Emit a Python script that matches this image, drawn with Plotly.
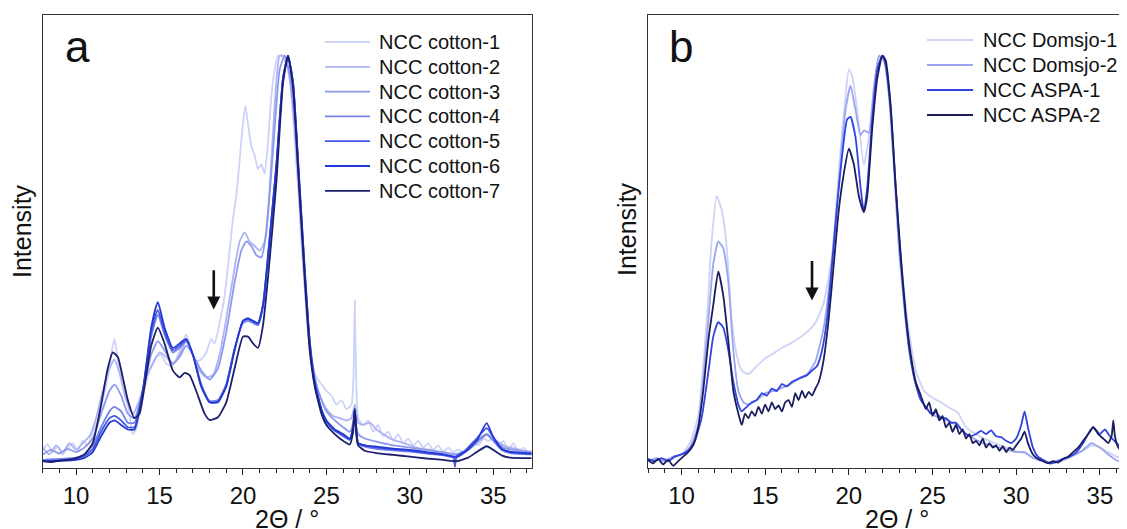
import plotly.graph_objects as go

# ---------------- data (normalized intensity, 2-theta in degrees) ----------------
cotton_names = ["NCC cotton-1", "NCC cotton-2", "NCC cotton-3", "NCC cotton-4",
                "NCC cotton-5", "NCC cotton-6", "NCC cotton-7"]
cotton_colors = ["#cdd2f7", "#abb3f2", "#8e99ee", "#7682ea", "#4457e3", "#2339d6", "#1b1f6e"]

cotton_1 = [[8.0,4.0],[8.3,5.2],[8.6,3.5],[8.9,4.8],[9.2,3.0],[9.5,4.5],[9.8,5.5],[10.1,3.8],[10.4,6.0],
            [10.7,5.0],[11.0,8.0],[11.3,10.5],[11.6,15],[11.9,20],[12.1,25],[12.3,28.5],[12.5,24],[12.8,19],
            [13.1,14],[13.4,7.5],[13.6,8.5],[13.9,14],[14.2,19],[14.5,22.5],[14.8,24.5],[15.1,25],[15.4,23],
            [15.7,22.5],[16.0,24],[16.3,27],[16.6,29.5],[16.9,26],[17.2,23.5],[17.5,24],[17.8,25.5],[18.1,28.5],
            [18.3,27.5],[18.6,32],[18.9,38],[19.2,48],[19.4,55],[19.6,60],[19.8,68],[20.0,76],[20.15,80],
            [20.3,76],[20.5,71],[20.7,69],[20.9,66],[21.1,67],[21.3,65],[21.5,72],[21.7,82],[21.9,88],
            [22.1,91],[22.3,91],[22.5,90],[22.7,88],[22.9,82],[23.1,72],[23.3,62],[23.5,50],[23.7,40],
            [23.9,30],[24.1,24],[24.4,20],[24.7,18.5],[25.0,17],[25.3,16],[25.6,14],[25.9,15],[26.2,13],
            [26.5,14],[26.62,20],[26.7,37],[26.78,20],[26.9,11],[27.2,9.5],[27.5,10.5],[27.8,8],[28.1,9.5],
            [28.4,7],[28.7,8],[29.0,6],[29.3,7.5],[29.6,5.5],[29.9,6.5],[30.2,5],[30.5,6],[30.8,4.5],
            [31.1,5.5],[31.4,4],[31.7,5],[32.0,3.5],[32.3,4.5],[32.6,3.5],[32.9,4.0],[33.2,3.5],[33.5,4.5],
            [33.8,5.5],[34.1,5],[34.4,6.5],[34.7,6],[35.0,6.5],[35.3,5],[35.6,6],[35.9,4],[36.2,5.5],
            [36.5,3.5],[36.8,4.5],[37.1,3.5],[37.3,4]]

cotton_2 = [[8.0,4.5],[8.4,3.0],[8.8,5.0],[9.2,3.5],[9.6,5.5],[10.0,4.0],[10.4,5.5],[10.8,7.0],[11.2,11],
            [11.6,17],[12.0,22],[12.3,24],[12.6,21],[13.0,15],[13.4,12],[13.8,15],[14.2,20],[14.6,23],
            [15.0,25.5],[15.4,24.5],[15.8,23],[16.2,25],[16.6,28],[17.0,25],[17.4,21.5],[17.8,20],[18.2,20.5],
            [18.6,25],[19.0,33],[19.4,42],[19.8,50],[20.1,52],[20.4,50],[20.7,49],[21.0,48],[21.3,50],
            [21.6,62],[21.9,80],[22.2,91],[22.5,91],[22.8,86],[23.1,76],[23.4,58],[23.7,40],[24.0,26],
            [24.3,19],[24.6,16],[25.0,13],[25.4,11.5],[25.8,11],[26.2,10.5],[26.5,11],[26.7,14],[26.9,10],
            [27.2,9.5],[27.6,10],[28.0,8.5],[28.4,7.5],[28.8,6.5],[29.2,6],[29.6,5.5],[30.0,5],[30.4,4.5],
            [30.8,4.2],[31.2,4],[31.6,3.6],[32.0,3.3],[32.4,3.2],[32.8,3],[33.2,3.5],[33.6,4.5],[34.0,5.5],
            [34.3,6.5],[34.6,7.3],[34.9,6.5],[35.2,6],[35.6,5],[36.0,4.5],[36.4,4.2],[36.8,3.8],[37.3,3.5]]

cotton_3 = [[8.0,3.0],[8.5,4.0],[9.0,3.2],[9.5,4.2],[10.0,3.5],[10.5,4.5],[11.0,6.5],[11.5,12],[12.0,17],
            [12.3,18.4],[12.7,16],[13.1,12],[13.5,11],[14.0,17],[14.5,25],[14.9,28],[15.3,26],[15.8,23],
            [16.2,24.5],[16.6,27],[17.0,25],[17.5,21.5],[18.0,19.5],[18.5,22],[19.0,30],[19.5,41],[19.9,48],
            [20.2,50],[20.5,49],[20.8,47],[21.1,46.5],[21.4,52],[21.8,70],[22.2,88],[22.5,91],[22.8,87],
            [23.1,76],[23.4,60],[23.7,42],[24.0,28],[24.3,20],[24.7,15],[25.0,12.5],[25.5,10.5],[26.0,9],
            [26.4,8],[26.6,10],[26.7,13],[26.8,9],[26.9,7.5],[27.3,6.5],[28.0,5.8],[29.0,5],[30.0,4.5],
            [31.0,4],[32.0,3.5],[32.8,3],[33.5,4],[34.0,5.5],[34.6,7.5],[35.1,6],[35.6,4.5],[36.2,4],[37.3,3.5]]

cotton_4 = [[8.0,1.8],[9.0,2.0],[10.0,2.3],[10.5,3],[11.0,5],[11.5,9],[12.0,12.5],[12.3,13.5],[12.7,12.5],
            [13.1,10],[13.5,10],[14.0,17],[14.5,29],[14.9,33.8],[15.3,29.5],[15.8,25.5],[16.2,26.5],
            [16.6,28],[17.0,25],[17.5,18.5],[18.0,14.8],[18.5,15],[19.0,18.5],[19.5,26.5],[20.0,32],
            [20.3,32.5],[20.6,32],[20.9,31.5],[21.2,35.5],[21.5,46],[22.0,66],[22.4,86],[22.7,91],[23.0,85],
            [23.3,67],[23.7,43],[24.0,27],[24.3,18.5],[24.7,12.5],[25.0,10],[25.5,8.2],[26.0,7],[26.4,6.2],
            [26.6,9],[26.7,13],[26.8,8],[26.9,5.3],[27.3,4.7],[28.0,4.2],[29.0,3.9],[30.0,3.6],[31.0,3.2],
            [32.0,2.8],[32.8,2.3],[33.3,3.5],[34.0,6],[34.6,7.5],[35.0,6],[35.5,4],[36.0,3.3],[37.3,3]]

cotton_5 = [[8.0,1.5],[9.0,1.7],[10.0,2],[10.5,2.6],[11.0,4.2],[11.5,8],[12.0,11],[12.3,11.5],[12.7,10.5],
            [13.1,9],[13.5,9],[14.0,17],[14.5,30],[14.9,34.9],[15.3,30],[15.8,26],[16.2,27],[16.6,28.3],
            [17.0,25],[17.5,18],[18.0,14.5],[18.5,14.7],[19.0,18.3],[19.5,26.2],[20.0,32.5],[20.3,33],
            [20.6,32.3],[20.9,31.8],[21.2,36],[21.5,46.5],[22.0,66.5],[22.4,86],[22.7,91],[23.0,85],
            [23.3,67.5],[23.7,43.5],[24.0,27.5],[24.3,18.8],[24.7,12.8],[25.0,10.3],[25.5,8.3],[26.0,7.2],
            [26.4,6.3],[26.6,9],[26.7,13],[26.8,8],[26.9,5.5],[27.3,5],[28.0,4.5],[29.0,4.1],[30.0,3.8],
            [31.0,3.3],[32.0,2.9],[32.6,2.4],[32.7,0.3],[32.8,2.6],[33.3,3.8],[34.0,6.5],[34.6,8.8],
            [35.0,6.8],[35.5,4.3],[36.0,3.5],[37.3,3.1]]

cotton_6 = [[8.0,1.5],[9.0,1.6],[10.0,1.8],[10.5,2.2],[11.0,3.5],[11.5,7],[12.0,10],[12.3,10.5],[12.7,9.5],
            [13.1,8.5],[13.5,8.5],[14.0,17],[14.5,31],[14.9,36.6],[15.3,31],[15.8,26.5],[16.2,27.5],
            [16.6,28.5],[17.0,25],[17.5,18],[18.0,14.5],[18.5,14.5],[19.0,18],[19.5,26],[20.0,32.5],
            [20.3,33],[20.6,32.5],[20.9,32],[21.2,36],[21.5,47],[22.0,67],[22.4,86],[22.7,91],[23.0,85],
            [23.3,68],[23.7,44],[24.0,28],[24.3,19],[24.7,13],[25.0,10.5],[25.5,8.5],[26.0,7.5],[26.4,6.5],
            [26.6,9],[26.7,13],[26.8,8],[26.9,5.5],[27.3,5],[28.0,4.7],[29.0,4.3],[30.0,4],[31.0,3.5],
            [32.0,3],[32.8,2.5],[33.3,3.5],[34.0,6],[34.6,9.9],[35.0,6.8],[35.5,4.2],[36.0,3.6],[37.3,3.2]]

cotton_7 = [[8.0,1.5],[8.5,1.3],[9.0,1.6],[9.5,1.8],[10.0,2.2],[10.5,3],[11.0,5.5],[11.5,14],[11.9,22],
            [12.2,25.5],[12.5,24.5],[12.8,20],[13.1,15],[13.5,11],[13.8,12],[14.1,18],[14.5,27],[14.9,31],
            [15.3,27.5],[15.8,21.5],[16.2,20],[16.5,21],[16.8,20.5],[17.2,17],[17.7,12],[18.0,10.6],
            [18.5,11.2],[19.0,14.5],[19.5,22],[20.0,29],[20.3,29],[20.6,27.5],[20.9,26.5],[21.2,31.5],
            [21.5,42],[22.0,63],[22.4,85],[22.7,91],[23.0,84],[23.3,66],[23.7,42],[24.0,26],[24.3,18],
            [24.7,12],[25.0,9.5],[25.5,7.5],[26.0,6],[26.4,5.2],[26.6,8],[26.7,13],[26.8,7],[26.9,5],
            [27.3,3.8],[28.0,3.3],[29.0,2.9],[30.0,2.5],[31.0,2.1],[32.0,1.8],[32.8,1.5],[33.5,2.3],
            [34.0,3.5],[34.6,4.8],[35.0,4],[35.5,2.8],[36.0,2.3],[37.3,2.2]]

wood_names = ["NCC Domsjo-1", "NCC Domsjo-2", "NCC ASPA-1", "NCC ASPA-2"]
wood_colors = ["#cdd2f7", "#9ba4ef", "#2f44e0", "#1b1d5e"]

domsjo_1 = [[8.0,1.7],[8.5,1.8],[9.0,2.0],[9.5,2.3],[10.0,3],[10.5,5.5],[11.0,11.5],[11.5,32],[11.8,50],
            [12.1,60],[12.4,57],[12.7,49],[13.0,33],[13.3,25],[13.6,21.5],[14.0,20.7],[14.5,22.5],[15.0,24.2],
            [15.5,25.3],[16.0,26.5],[16.5,27.5],[17.0,28.6],[17.5,30],[18.0,32],[18.5,36.5],[19.0,47],
            [19.5,70],[19.8,82],[20.0,88],[20.2,86.5],[20.5,79],[20.9,67],[21.2,73],[21.5,84],[21.8,90.5],
            [22.1,91],[22.4,84],[22.7,68],[23.0,51],[23.3,39],[23.6,30],[24.0,21.5],[24.5,17],[25.0,15.5],
            [25.5,14.5],[26.0,13.3],[26.5,12.3],[27.0,9],[27.5,7.7],[28.0,6.6],[29.0,5.1],[30.0,3.7],
            [30.5,3.3],[31.0,2.2],[31.5,1.6],[32.0,1.3],[32.5,1.4],[33.0,1.9],[33.5,2.8],[34.0,3.8],
            [34.5,5],[35.0,4.5],[35.5,3.5],[36.0,2.5],[36.62,1.7]]

domsjo_2 = [[8.0,1.5],[8.5,2.2],[9.0,1.5],[9.5,2.5],[10.0,3],[10.5,4.5],[11.0,9.5],[11.5,28],[11.9,45],
            [12.2,50],[12.5,48.5],[12.8,41],[13.1,26],[13.4,17],[13.7,14.5],[14.0,14],[14.5,15],[15.0,16.5],
            [15.5,17],[16.0,17.7],[16.5,18.5],[17.0,19.8],[17.5,20.7],[18.0,23.5],[18.5,31],[19.0,46],
            [19.5,67],[19.8,79],[20.1,84.4],[20.4,79],[20.7,73.5],[20.9,74.5],[21.2,74],[21.5,84],[21.8,91],
            [22.1,90],[22.4,82],[22.7,66],[23.0,48],[23.3,36],[23.6,26],[24.0,18.5],[24.5,14],[25.0,11.8],
            [25.5,11],[26.0,10.3],[26.5,9.5],[27.0,7.5],[28.0,5.5],[29.0,4.5],[30.0,3.5],[30.5,3.5],
            [31.0,2.2],[31.5,1.8],[32.0,1.3],[32.5,1.7],[33.0,2.2],[33.5,3],[34.0,4],[34.5,5.5],[35.0,4.5],
            [35.5,3],[36.0,1.7],[36.62,1]]

aspa_1 = [[8.0,2.0],[8.4,1.5],[8.8,2.2],[9.2,1.5],[9.6,2.5],[10.0,3.0],[10.4,3.8],[10.8,6],[11.2,11],
          [11.6,21],[11.9,29],[12.2,32.2],[12.5,31],[12.8,26],[13.1,19],[13.4,14],[13.6,12.5],[13.9,13.5],
          [14.2,14.5],[14.5,15],[14.8,16.5],[15.1,16],[15.4,17.5],[15.7,17],[16.0,18.5],[16.3,18],[16.6,19],
          [16.9,19.5],[17.2,20],[17.5,20.5],[17.8,21.5],[18.1,22.5],[18.4,26],[18.7,33],[19.0,45],[19.3,58],
          [19.6,69],[19.9,77],[20.1,77.5],[20.4,73],[20.7,62],[20.9,56.5],[21.1,62],[21.4,77],[21.7,88],
          [22.0,91],[22.2,89],[22.5,79],[22.8,62],[23.1,46],[23.4,33],[23.7,24],[24.0,18.5],[24.3,15],
          [24.6,13.5],[24.9,12],[25.2,12.3],[25.5,11],[25.8,11],[26.1,10],[26.4,10],[26.7,8.5],[27.0,7.5],
          [27.3,7],[27.6,7.5],[27.9,8.2],[28.2,7.5],[28.5,8.3],[28.8,7],[29.1,6.8],[29.4,6],[29.7,5.5],
          [30.0,6.5],[30.3,9.5],[30.5,12.5],[30.7,9],[31.0,4.5],[31.3,2.5],[31.6,1.8],[32.0,1],[32.4,1.3],
          [32.8,2],[33.2,2.5],[33.6,3.5],[34.0,5.5],[34.3,7.5],[34.6,9],[35.0,7.5],[35.3,8.5],[35.6,7],
          [36.0,5.5],[36.3,4.5],[36.62,3.5]]

aspa_2 = [[8.0,1.8],[8.3,1.0],[8.6,2.0],[8.9,0.8],[9.2,1.8],[9.5,0.5],[9.8,1.5],[10.1,2.5],[10.4,3.5],
          [10.7,5],[11.0,9],[11.3,17],[11.6,28],[11.9,36],[12.2,43.4],[12.5,38],[12.8,28],[13.1,17],
          [13.4,12],[13.6,9.5],[13.8,12],[14.0,11],[14.2,12.5],[14.4,11.5],[14.6,13.5],[14.8,12],[15.0,14],
          [15.2,12.5],[15.4,14.5],[15.6,13],[15.8,13.8],[16.0,12.5],[16.2,14.5],[16.4,15],[16.6,13.5],
          [16.8,16.5],[17.0,15],[17.2,17],[17.4,15.5],[17.6,16.8],[17.8,16],[18.0,17.5],[18.2,19],[18.5,24],
          [18.8,33],[19.1,45],[19.4,57],[19.7,65],[20.0,70.5],[20.3,67],[20.6,60],[20.9,56.5],[21.1,60],
          [21.4,75],[21.7,86],[22.0,91],[22.2,90],[22.5,80],[22.8,62],[23.1,47],[23.4,34],[23.7,25],
          [24.0,19],[24.3,16],[24.6,13],[24.8,14.5],[25.0,11.5],[25.2,13],[25.4,10.5],[25.6,11.5],[25.8,9],
          [26.0,10],[26.2,8],[26.4,9.5],[26.6,7.5],[26.8,8.5],[27.0,6.5],[27.2,7.5],[27.4,5.5],[27.6,6],
          [27.8,5],[28.0,6.5],[28.2,4.5],[28.4,5.5],[28.6,4.5],[28.8,5],[29.0,3.8],[29.2,4.8],[29.4,3.5],
          [29.6,4.5],[29.8,4],[30.0,5],[30.3,6.5],[30.5,8],[30.7,5.5],[31.0,3],[31.3,2],[31.6,1.5],[31.9,1],
          [32.2,1.5],[32.5,1.2],[32.8,2],[33.1,2.5],[33.4,3.5],[33.7,4.5],[34.0,6],[34.3,7.5],[34.6,9],
          [34.9,7.5],[35.2,6.5],[35.5,5.5],[35.7,7],[35.8,10.5],[35.9,7],[36.1,4.5],[36.4,3.5],[36.62,3]]

x_ticks = [10, 15, 20, 25, 30, 35]

cotton_series = [cotton_1, cotton_2, cotton_3, cotton_4, cotton_5, cotton_6, cotton_7]
wood_series = [domsjo_1, domsjo_2, aspa_1, aspa_2]

# ---------------- figure ----------------
# the page body has an 8px margin, so the figure is sized/positioned to compensate
OFF = 8
W, H = 1127 - OFF, 529 - OFF
FONT = "Arial, 'Liberation Sans', Helvetica, sans-serif"


def px_x(p):          # page pixel -> paper fraction
    return (p - OFF) / W


def px_y(p):
    return 1 - (p - OFF) / H


fig = go.Figure()

for name, col, pts in zip(cotton_names, cotton_colors, cotton_series):
    fig.add_trace(go.Scatter(x=[p[0] for p in pts], y=[p[1] for p in pts], mode="lines",
                             name=name, line=dict(color=col, width=1.8, shape="spline", smoothing=0.5),
                             xaxis="x", yaxis="y", showlegend=False))

for name, col, pts in zip(wood_names, wood_colors, wood_series):
    fig.add_trace(go.Scatter(x=[p[0] for p in pts], y=[p[1] for p in pts], mode="lines",
                             name=name, line=dict(color=col, width=1.8, shape="spline", smoothing=0.5),
                             xaxis="x2", yaxis="y2", showlegend=False))

minor = dict(dtick=1, ticks="outside", ticklen=4, tickcolor="#222", tickwidth=1.1)
xa = dict(range=[8, 37.3], tickvals=x_ticks, ticks="outside", ticklen=6, tickwidth=1.2,
          tickcolor="#222", showline=True, linecolor="#333", linewidth=1.3, mirror=True,
          showgrid=False, zeroline=False, tickfont=dict(size=24, color="#111", family=FONT),
          minor=minor, domain=[px_x(42.7), px_x(531.7)], anchor="y")
ya = dict(range=[0, 100], showticklabels=False, ticks="", showline=True, linecolor="#333",
          linewidth=1.3, mirror=True, showgrid=False, zeroline=False,
          domain=[px_y(468), px_y(15)], anchor="x")
xb = dict(xa)
xb.update(range=[8, 36.62], domain=[px_x(648), 1.0], anchor="y2", minor=dict(minor))
yb = dict(ya)
yb.update(anchor="x2", mirror=False)

fig.update_layout(
    width=W, height=H, margin=dict(l=0, r=0, t=0, b=0),
    paper_bgcolor="white", plot_bgcolor="white",
    font=dict(family=FONT, color="#111"),
    xaxis=xa, yaxis=ya, xaxis2=xb, yaxis2=yb,
    showlegend=False,
)

annotations = [
    dict(text="a", x=px_x(63), y=px_y(46), xref="paper", yref="paper", showarrow=False,
         xanchor="left", yanchor="middle", font=dict(size=44, family=FONT, color="#111")),
    dict(text="b", x=px_x(667), y=px_y(47), xref="paper", yref="paper", showarrow=False,
         xanchor="left", yanchor="middle", font=dict(size=44, family=FONT, color="#111")),
    dict(text="Intensity", x=px_x(22), y=px_y(231), xref="paper", yref="paper", showarrow=False,
         textangle=-90, xanchor="center", yanchor="middle", font=dict(size=25, family=FONT, color="#111")),
    dict(text="Intensity", x=px_x(627), y=px_y(229), xref="paper", yref="paper", showarrow=False,
         textangle=-90, xanchor="center", yanchor="middle", font=dict(size=25, family=FONT, color="#111")),
    dict(text="2Θ / °", x=px_x(287), y=px_y(503), xref="paper", yref="paper", showarrow=False,
         xanchor="center", yanchor="top", font=dict(size=25, family=FONT, color="#111")),
    dict(text="2Θ / °", x=px_x(897), y=px_y(503), xref="paper", yref="paper", showarrow=False,
         xanchor="center", yanchor="top", font=dict(size=25, family=FONT, color="#111")),
    dict(text="", x=18.25, y=35, ax=18.25, ay=44, xref="x", yref="y", axref="x", ayref="y",
         showarrow=True, arrowhead=2, arrowsize=1, arrowwidth=2.6, arrowcolor="#111"),
    dict(text="", x=17.8, y=37, ax=17.8, ay=46, xref="x2", yref="y2", axref="x2", ayref="y2",
         showarrow=True, arrowhead=2, arrowsize=1, arrowwidth=2.6, arrowcolor="#111"),
]

# hand-placed legends (row spacing of the original is tighter than plotly's legend)
shapes = []
legend_specs = [
    (cotton_names, cotton_colors, 325, 370, 377, 42, 24.8),
    (wood_names, wood_colors, 927, 973, 981, 40, 25.0),
]
for names, cols, lx0, lx1, tx, y0, dy in legend_specs:
    for i, (nm, c) in enumerate(zip(names, cols)):
        yy = y0 + i * dy
        shapes.append(dict(type="line", xref="paper", yref="paper", x0=px_x(lx0), x1=px_x(lx1),
                           y0=px_y(yy), y1=px_y(yy), line=dict(color=c, width=1.8)))
        annotations.append(dict(text=nm, x=px_x(tx), y=px_y(yy), xref="paper", yref="paper",
                                showarrow=False, xanchor="left", yanchor="middle",
                                font=dict(size=20, family=FONT, color="#111")))

fig.update_layout(annotations=annotations, shapes=shapes)

fig.write_html("out.html")
